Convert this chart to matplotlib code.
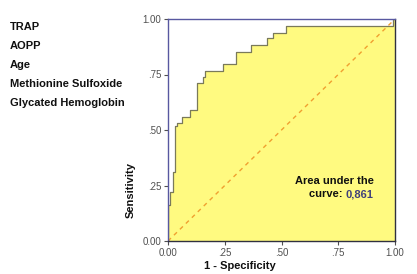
import matplotlib
matplotlib.use("Agg")
import matplotlib.pyplot as plt

# ROC staircase
fpr = [0.0, 0.0, 0.009, 0.009, 0.02, 0.02, 0.031, 0.031, 0.041, 0.041, 0.06, 0.06,
       0.097, 0.097, 0.126, 0.126, 0.156, 0.156, 0.163, 0.163, 0.241, 0.241,
       0.30, 0.30, 0.364, 0.364, 0.435, 0.435, 0.461, 0.461, 0.52, 0.52, 0.99, 0.99, 1.0]
tpr = [0.0, 0.16, 0.16, 0.22, 0.22, 0.31, 0.31, 0.52, 0.52, 0.53, 0.53, 0.56,
       0.56, 0.59, 0.59, 0.71, 0.71, 0.74, 0.74, 0.766, 0.766, 0.796,
       0.796, 0.852, 0.852, 0.882, 0.882, 0.913, 0.913, 0.938, 0.938, 0.968, 0.968, 1.0, 1.0]

variables = ["TRAP", "AOPP", "Age", "Methionine Sulfoxide", "Glycated Hemoglobin"]
ticks = [0, 0.25, 0.5, 0.75, 1.0]
tick_labels = ["0.00", ".25", ".50", ".75", "1.00"]
auc = "0,861"

plt.rcParams['font.family'] = ['Liberation Sans', 'DejaVu Sans']

fig = plt.figure(figsize=(4.17, 2.74), dpi=100)
ax = fig.add_axes([168/417, 1 - 241/274, 227/417, 222/274])

ax.fill_between(fpr, tpr, 0, color="#FFFA80", lw=0)
ax.plot(fpr, tpr, color="#7A7A5A", lw=0.9)
ax.plot([0, 1], [0, 1], color="#F0A030", lw=1.0, ls=(0, (3, 3)))

ax.set_xlim(0, 1)
ax.set_ylim(0, 1)
ax.set_xticks(ticks)
ax.set_xticklabels(tick_labels)
ax.set_yticks(ticks)
ax.set_yticklabels(tick_labels)
ax.tick_params(labelsize=7, colors="#505050", length=3, width=0.8, pad=2)
for s in ["top", "left"]:
    ax.spines[s].set_color("#5858A0")
for s in ["bottom", "right"]:
    ax.spines[s].set_color("#303040")
for s in ax.spines.values():
    s.set_linewidth(1.0)

ax.text(0.905, 0.27, "Area under the", ha="right", va="center", fontsize=8,
        fontweight="bold", color="#101010", transform=ax.transAxes)
val = ax.text(0.905, 0.21, auc, ha="right", va="center", fontsize=8,
              fontweight="bold", color="#40407A", transform=ax.transAxes)
ax.annotate("curve: ", xy=(0, 0.5), xycoords=val, ha="right", va="center",
            fontsize=8, fontweight="bold", color="#101010")

fig.text(240/417, 1 - 266/274, "1 - Specificity", ha="center", va="center",
         fontsize=8, fontweight="bold", color="#101010")
fig.text(131/417, 1 - 190/274, "Sensitivity", ha="center", va="center",
         rotation=90, fontsize=8, fontweight="bold", color="#101010")

for i, name in enumerate(variables):
    fig.text(10/417, 1 - (27 + 19 * i)/274, name, ha="left", va="center",
             fontsize=8, fontweight="bold", color="#101010")

fig.savefig("out.png", dpi=100)
